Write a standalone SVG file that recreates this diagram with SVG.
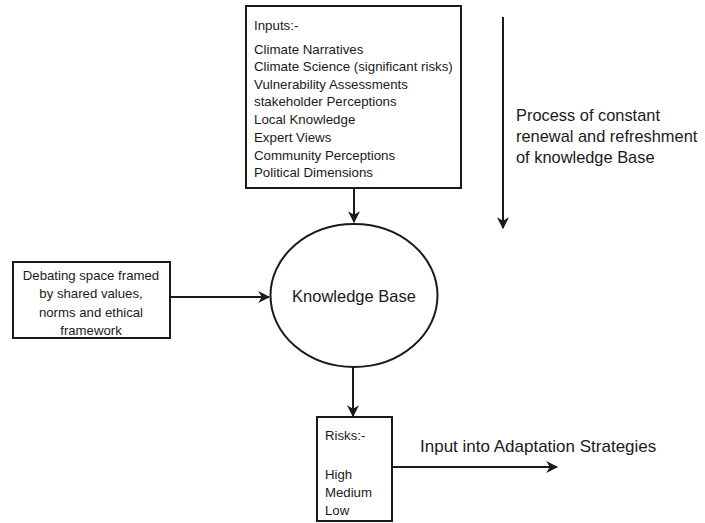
<svg xmlns="http://www.w3.org/2000/svg" width="705" height="523" viewBox="0 0 705 523">
<defs>
<style>
text{font-family:"Liberation Sans",Arial,sans-serif;fill:#1a1a1a}
.box{fill:#fff;stroke:#1a1a1a;stroke-width:2}
.ln{fill:none;stroke:#1a1a1a;stroke-width:2}
.sm{font-size:13.3px}
.lb{font-size:13.2px}
.kb{font-size:16.5px}
.big{font-size:17px}
.pr{font-size:16.4px}
</style>
<marker id="ah" viewBox="0 0 10 10" refX="9" refY="5" markerWidth="6" markerHeight="6" orient="auto" markerUnits="strokeWidth">
<path d="M0,0 L10,5 L0,10 L3,5 Z" fill="#1a1a1a"/>
</marker>
</defs>
<rect width="705" height="523" fill="#fff"/>
<g id="connectors">
<line class="ln" x1="354" y1="188" x2="354" y2="222" marker-end="url(#ah)"/>
<line class="ln" x1="170" y1="297" x2="269" y2="297" marker-end="url(#ah)"/>
<line class="ln" x1="353" y1="367" x2="353" y2="416" marker-end="url(#ah)"/>
<line class="ln" x1="392" y1="467" x2="557" y2="467" stroke-width="2.5" marker-end="url(#ah)"/>
<line class="ln" x1="503" y1="17" x2="503" y2="228" stroke-width="3" marker-end="url(#ah)"/>
</g>
<g id="inputs">
<rect class="box" x="246" y="6" width="215" height="182"/>
<text class="sm" x="254" y="29.5">Inputs:-</text>
<text class="sm" x="254" y="53.5">Climate Narratives</text>
<text class="sm" x="254" y="71">Climate Science (significant risks)</text>
<text class="sm" x="254" y="88.5">Vulnerability Assessments</text>
<text class="sm" x="254" y="106">stakeholder Perceptions</text>
<text class="sm" x="254" y="123.5">Local Knowledge</text>
<text class="sm" x="254" y="141.5">Expert Views</text>
<text class="sm" x="254" y="159.5">Community Perceptions</text>
<text class="sm" x="254" y="177">Political Dimensions</text>
</g>
<g id="debating">
<rect class="box" x="13" y="262" width="157" height="76"/>
<text class="lb" text-anchor="middle" x="91" y="279.5">Debating space framed</text>
<text class="lb" text-anchor="middle" x="91" y="297.5">by shared values,</text>
<text class="lb" text-anchor="middle" x="91" y="316.5">norms and ethical</text>
<text class="lb" text-anchor="middle" x="91" y="334.5">framework</text>
</g>
<g id="knowledge">
<ellipse class="box" cx="354" cy="295.5" rx="83.5" ry="71.5"/>
<text class="kb" text-anchor="middle" x="354" y="302">Knowledge Base</text>
</g>
<g id="risks">
<rect class="box" x="317" y="417" width="75" height="104"/>
<text class="lb" x="325" y="439.5">Risks:-</text>
<text class="lb" x="325" y="478.5">High</text>
<text class="lb" x="325" y="496.5">Medium</text>
<text class="lb" x="325" y="514.5">Low</text>
</g>
<g id="adaptation">
<text class="big" x="420" y="452">Input into Adaptation Strategies</text>
</g>
<g id="process">
<text class="pr" x="516" y="120.5">Process of constant</text>
<text class="pr" x="516" y="141.5">renewal and refreshment</text>
<text class="pr" x="516" y="162.5">of knowledge Base</text>
</g>
</svg>
